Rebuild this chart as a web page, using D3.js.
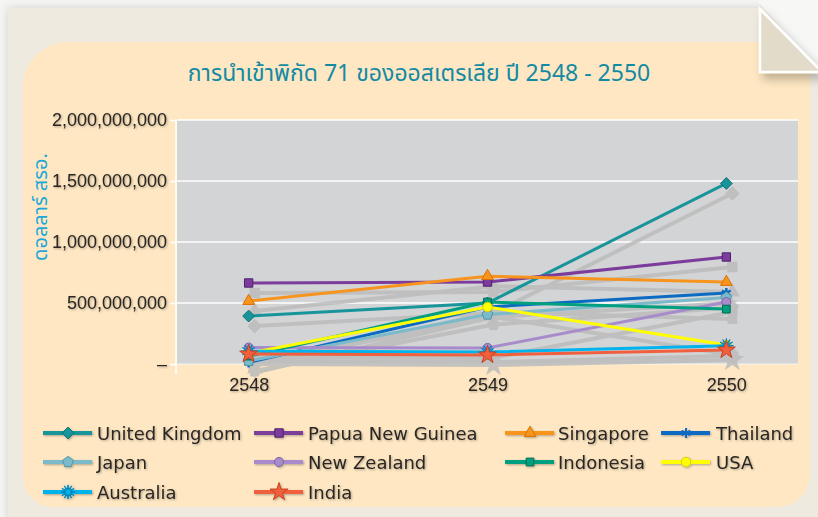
<!DOCTYPE html>
<html>
<head>
<meta charset="utf-8">
<script src="https://cdn.jsdelivr.net/npm/d3@7"></script>
<style>
    body { margin: 0; background: #f5f5f4; }
    svg { display: block; }
</style>
</head>
<body>
<div id="chart"></div>
<script>
// ---- data ----
const years = ["2548", "2549", "2550"];
const countries = ["United Kingdom", "Papua New Guinea", "Singapore", "Thailand",
    "Japan", "New Zealand", "Indonesia", "USA", "Australia", "India"];

const unitedKingdom = [393e6, 500e6, 1480e6];
const papuaNewGuinea = [664e6, 672e6, 877e6];
const singapore = [516e6, 720e6, 672e6];
const thailand = [12e6, 467e6, 582e6];
const japan = [25e6, 405e6, 545e6];
const newZealand = [135e6, 132e6, 508e6];
const indonesia = [65e6, 508e6, 450e6];
const usa = [88e6, 467e6, 156e6];
const australia = [105e6, 98e6, 150e6];
const india = [82e6, 74e6, 115e6];

const yTicks = [0, 500e6, 1000e6, 1500e6, 2000e6];
const yTickLabels = ["–", "500,000,000", "1,000,000,000", "1,500,000,000", "2,000,000,000"];

const title = "การนำเข้าพิกัด 71 ของออสเตรเลีย ปี 2548 - 2550";
const yTitle = "ดอลลาร์ สรอ.";

// ---- look ----
const seriesColors = ["#17959a", "#7b3c9b", "#f7941d", "#0b6bc3", "#7cb9c9",
    "#a88bcb", "#009f80", "#ffff00", "#00b3ec", "#f0603e"];
const markerEdge = ["#0d6e72", "#4f1f70", "#d97206", "#064c94", "#4f97aa",
    "#7f62a8", "#006b55", "#d8cf00", "#0088c0", "#c8401f"];

// a few marker shapes d3 does not have
const symbolRhomb = {
    draw(ctx, size) {
        const r = Math.sqrt(size / 2);
        ctx.moveTo(0, -r); ctx.lineTo(r, 0); ctx.lineTo(0, r); ctx.lineTo(-r, 0);
        ctx.closePath();
    }
};
const symbolPentagon = {
    draw(ctx, size) {
        const r = Math.sqrt(size / 2.378);
        for (let k = 0; k < 5; k++) {
            const a = -Math.PI / 2 + k * 2 * Math.PI / 5;
            if (k == 0) ctx.moveTo(r * Math.cos(a), r * Math.sin(a));
            else ctx.lineTo(r * Math.cos(a), r * Math.sin(a));
        }
        ctx.closePath();
    }
};
const symbolBurst = {
    draw(ctx, size) {
        const r = Math.sqrt(size) * 0.8, ri = r * 0.35;
        for (let k = 0; k < 24; k++) {
            const a = -Math.PI / 2 + k * Math.PI / 12;
            const rr = k % 2 == 0 ? r : ri;
            if (k == 0) ctx.moveTo(rr * Math.cos(a), rr * Math.sin(a));
            else ctx.lineTo(rr * Math.cos(a), rr * Math.sin(a));
        }
        ctx.closePath();
    }
};
const seriesSymbols = [symbolRhomb, d3.symbolSquare, d3.symbolTriangle, d3.symbolAsterisk,
    symbolPentagon, d3.symbolCircle, d3.symbolSquare, d3.symbolCircle, symbolBurst, d3.symbolStar];
const symbolSizes = [70, 70, 60, 70, 75, 64, 60, 70, 80, 100];

const seriesValues = [unitedKingdom, papuaNewGuinea, singapore, thailand, japan,
    newZealand, indonesia, usa, australia, india];
const series = countries.map((c, i) => ({
    name: c,
    values: seriesValues[i],
    color: seriesColors[i],
    edge: markerEdge[i],
    symbol: seriesSymbols[i],
    size: symbolSizes[i]
}));

const width = 818, height = 517;
const plot = { left: 177, right: 798, top: 120, bottom: 364 };

const svg = d3.select("#chart")
    .append("svg")
    .attr("width", width)
    .attr("height", height);

const defs = svg.append("defs");
defs.append("filter").attr("id", "soft")
    .attr("x", "-20%").attr("y", "-40%").attr("width", "140%").attr("height", "180%")
    .append("feDropShadow")
    .attr("dx", 1).attr("dy", 1).attr("stdDeviation", 1)
    .attr("flood-color", "#000").attr("flood-opacity", 0.3);
defs.append("filter").attr("id", "pageShadow")
    .attr("x", "-5%").attr("y", "-5%").attr("width", "110%").attr("height", "110%")
    .append("feDropShadow")
    .attr("dx", 0).attr("dy", 0).attr("stdDeviation", 4)
    .attr("flood-color", "#000").attr("flood-opacity", 0.15);
defs.append("filter").attr("id", "curlShadow")
    .attr("x", "-50%").attr("y", "-50%").attr("width", "200%").attr("height", "200%")
    .append("feDropShadow")
    .attr("dx", 4).attr("dy", 6).attr("stdDeviation", 5)
    .attr("flood-color", "#000").attr("flood-opacity", 0.25);

// page background
svg.append("rect")
    .attr("x", 8).attr("y", 8)
    .attr("width", width).attr("height", height)
    .attr("fill", "#eeeadf")
    .attr("filter", "url(#pageShadow)");

// peach panel with rounded corners
const px0 = 23, px1 = 810, py0 = 42, py1 = 507;
const panel = d3.path();
panel.moveTo(px0 + 45, py0);
panel.lineTo(px1, py0);
panel.lineTo(px1, py1 - 32);
panel.arcTo(px1, py1, px1 - 32, py1, 32);
panel.lineTo(px0 + 30, py1);
panel.arcTo(px0, py1, px0, py1 - 30, 30);
panel.lineTo(px0, py0 + 45);
panel.arcTo(px0, py0, px0 + 45, py0, 45);
panel.closePath();
svg.append("path")
    .attr("d", panel.toString())
    .attr("fill", "#fee7c2");

// page curl in top right corner
svg.append("path")
    .attr("d", "M757,0 L818,0 L818,70 Z")
    .attr("fill", "#f7f7f6");
svg.append("path")
    .attr("d", "M760,9 L760,72 L822,72 Z")
    .attr("fill", "#e2dbc9")
    .attr("stroke", "#ffffff")
    .attr("stroke-width", 2.5)
    .attr("filter", "url(#curlShadow)");

// title
svg.append("text")
    .attr("x", 419)
    .attr("y", 74)
    .attr("text-anchor", "middle")
    .attr("dominant-baseline", "central")
    .attr("font-family", "'Noto Sans Thai', 'Noto Sans', sans-serif")
    .attr("font-size", 23)
    .attr("fill", "#138aa4")
    .text(title);

// scales
const x = d3.scalePoint()
    .domain(years)
    .range([plot.left, plot.right])
    .padding(0.3);
const y = d3.scaleLinear()
    .domain([0, 2000e6])
    .range([plot.bottom, plot.top]);

// plot area
svg.append("rect")
    .attr("x", plot.left).attr("y", plot.top)
    .attr("width", plot.right - plot.left)
    .attr("height", plot.bottom - plot.top)
    .attr("fill", "#d3d4d6");

svg.append("g")
    .selectAll("line")
    .data(yTicks)
    .join("line")
    .attr("x1", plot.left).attr("x2", plot.right)
    .attr("y1", d => y(d)).attr("y2", d => y(d))
    .attr("stroke", "#ffffff")
    .attr("stroke-width", d => d == 0 ? 1 : 1.5)
    .attr("stroke-opacity", d => d == 0 ? 0.7 : 1);

// y axis
const yAxis = svg.append("g")
    .attr("transform", `translate(${plot.left - 1},0)`)
    .call(d3.axisLeft(y)
        .tickValues(yTicks)
        .tickFormat((d, i) => yTickLabels[i])
        .tickSize(6)
        .tickSizeOuter(0)
        .tickPadding(3));
yAxis.select(".domain").remove();
yAxis.selectAll(".tick line").attr("stroke", "#ffffff").attr("stroke-width", 1.5);
yAxis.selectAll(".tick text")
    .attr("font-family", "'Liberation Sans', Arial, sans-serif")
    .attr("font-size", 18)
    .attr("fill", "#2a2523")
    .attr("filter", "url(#soft)");
svg.append("line")
    .attr("x1", plot.left - 1).attr("x2", plot.left - 1)
    .attr("y1", plot.top).attr("y2", plot.bottom + 10)
    .attr("stroke", "#ffffff").attr("stroke-width", 1.5);

// x axis
const xAxis = svg.append("g")
    .attr("transform", `translate(0,${plot.bottom})`)
    .call(d3.axisBottom(x).tickSize(0).tickPadding(14));
xAxis.select(".domain").remove();
xAxis.selectAll(".tick text")
    .attr("font-family", "'Liberation Sans', Arial, sans-serif")
    .attr("font-size", 18)
    .attr("fill", "#2a2523")
    .attr("filter", "url(#soft)");

// y axis title
svg.append("text")
    .attr("transform", "translate(41,207) rotate(-90)")
    .attr("text-anchor", "middle")
    .attr("dominant-baseline", "central")
    .attr("font-family", "'Noto Sans Thai', 'Noto Sans', sans-serif")
    .attr("font-size", 20)
    .attr("fill", "#1ba7d9")
    .text(yTitle);

// lines
const line = d3.line()
    .x((d, i) => x(years[i]))
    .y(d => y(d));

const marker = s => d3.symbol().type(s.symbol).size(s.size)();

// grey 3D shadow of every series
const shadow = svg.append("g")
    .attr("transform", "translate(6,10)")
    .attr("opacity", 0.85);
series.forEach(s => {
    shadow.append("path")
        .attr("d", line(s.values))
        .attr("fill", "none")
        .attr("stroke", "#bcbcbc")
        .attr("stroke-width", 4);
    shadow.selectAll(null)
        .data(s.values)
        .join("path")
        .attr("transform", (d, i) => `translate(${x(years[i])},${y(d)})`)
        .attr("d", marker(s))
        .attr("fill", "#bcbcbc")
        .attr("stroke", "#bcbcbc")
        .attr("stroke-width", 2);
});

const marked = svg.append("g");
series.forEach(s => {
    const g = marked.append("g");
    g.append("path")
        .attr("d", line(s.values))
        .attr("fill", "none")
        .attr("stroke", s.color)
        .attr("stroke-width", 3);
    const stroked = s.symbol == d3.symbolAsterisk;
    g.selectAll(null)
        .data(s.values)
        .join("path")
        .attr("transform", (d, i) => `translate(${x(years[i])},${y(d)})`)
        .attr("d", marker(s))
        .attr("fill", stroked ? "none" : s.color)
        .attr("stroke", stroked ? s.color : s.edge)
        .attr("stroke-width", stroked ? 2.5 : 1)
        .attr("stroke-linejoin", "round");
});

// legend
const legendLineX = [43, 254, 505, 661];
const legendTextX = [97, 308, 558, 716];
const legendRowY = [433, 462, 492];

const legend = svg.append("g");
series.forEach((s, i) => {
    const col = i % 4, row = Math.floor(i / 4);
    const ly = legendRowY[row];
    const item = legend.append("g").attr("filter", "url(#soft)");
    item.append("line")
        .attr("x1", legendLineX[col]).attr("x2", legendLineX[col] + 49)
        .attr("y1", ly).attr("y2", ly)
        .attr("stroke", s.color)
        .attr("stroke-width", 4);
    const stroked = s.symbol == d3.symbolAsterisk;
    item.append("path")
        .attr("transform", `translate(${legendLineX[col] + 25},${ly})`)
        .attr("d", marker(s))
        .attr("fill", stroked ? "none" : s.color)
        .attr("stroke", stroked ? s.color : s.edge)
        .attr("stroke-width", stroked ? 2 : 1);
    legend.append("text")
        .attr("x", legendTextX[col])
        .attr("y", ly)
        .attr("dominant-baseline", "central")
        .attr("font-family", "'DejaVu Sans', sans-serif")
        .attr("font-size", 18)
        .attr("fill", "#2a2523")
        .attr("filter", "url(#soft)")
        .text(s.name);
});
</script>
</body>
</html>
